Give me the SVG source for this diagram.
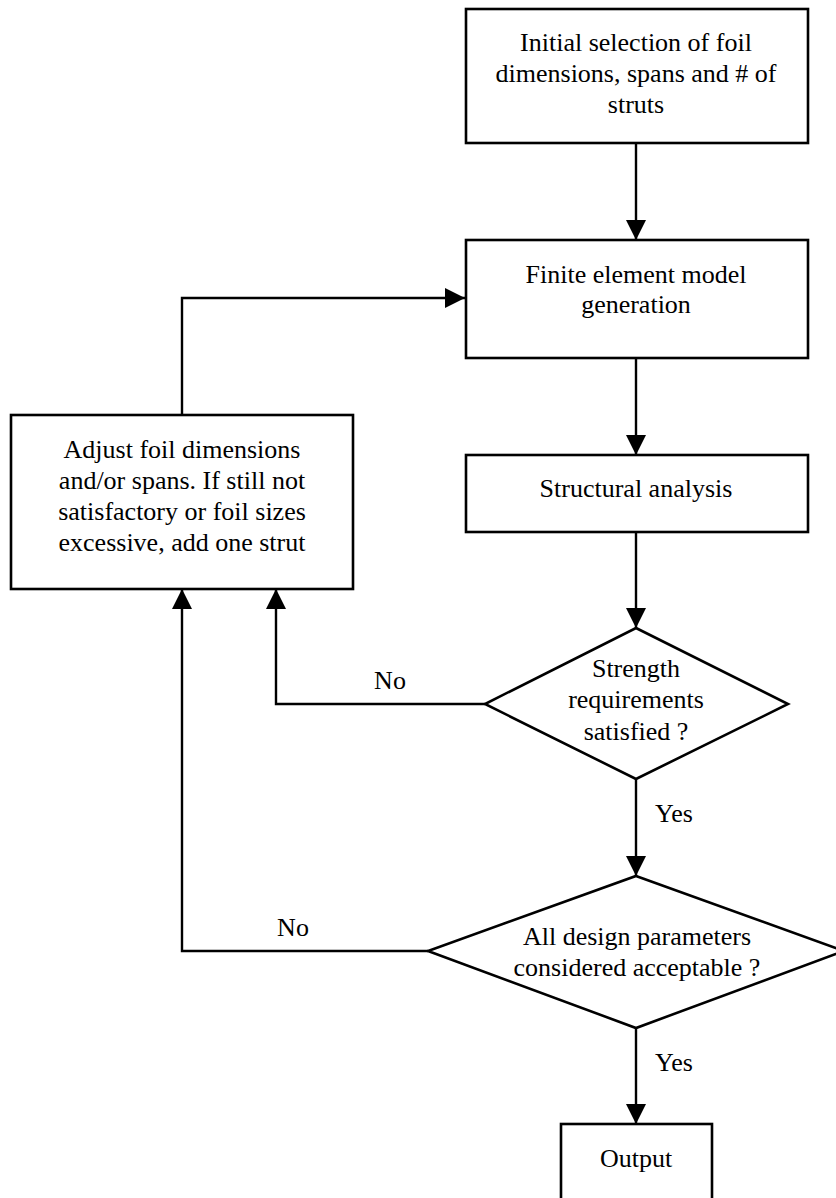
<svg xmlns="http://www.w3.org/2000/svg" width="836" height="1198" viewBox="0 0 836 1198">
<style>
.box{fill:#fff;stroke:#000;stroke-width:2.6}
.con{fill:none;stroke:#000;stroke-width:2.4}
text{font-family:"Liberation Serif","Times New Roman",serif;font-size:26px;fill:#000;text-anchor:middle}
</style>
<defs>
<marker id="arr" markerUnits="userSpaceOnUse" markerWidth="20" markerHeight="20" refX="20" refY="10" orient="auto" viewBox="0 0 20 20">
<path d="M0,0 L20,10 L0,20 z" fill="#000"/>
</marker>
</defs>
<rect width="836" height="1198" fill="#fff"/>
<g id="connectors">
<path class="con" d="M636,143 V240" marker-end="url(#arr)"/>
<path class="con" d="M636,358 V455" marker-end="url(#arr)"/>
<path class="con" d="M636,532 V628" marker-end="url(#arr)"/>
<path class="con" d="M636,779 V876" marker-end="url(#arr)"/>
<path class="con" d="M636,1028 V1124" marker-end="url(#arr)"/>
<path class="con" d="M485,704 H276 V589" marker-end="url(#arr)"/>
<path class="con" d="M428,951 H182 V589" marker-end="url(#arr)"/>
<path class="con" d="M182,415 V298 H465" marker-end="url(#arr)"/>
<text x="390" y="689">No</text>
<text x="293" y="936">No</text>
<text x="674" y="822">Yes</text>
<text x="674" y="1071">Yes</text>
</g>
<g id="initial">
<rect class="box" x="466" y="9" width="342" height="134"/>
<text x="636" y="51">Initial selection of foil</text>
<text x="636" y="82">dimensions, spans and # of</text>
<text x="636" y="113">struts</text>
</g>
<g id="fem">
<rect class="box" x="466" y="240" width="342" height="118"/>
<text x="636" y="283">Finite element model</text>
<text x="636" y="313">generation</text>
</g>
<g id="structural">
<rect class="box" x="466" y="455" width="342" height="77"/>
<text x="636" y="497">Structural analysis</text>
</g>
<g id="adjust">
<rect class="box" x="11" y="415" width="342" height="174"/>
<text x="182" y="458">Adjust foil dimensions</text>
<text x="182" y="489">and/or spans. If still not</text>
<text x="182" y="520">satisfactory or foil sizes</text>
<text x="182" y="551">excessive, add one strut</text>
</g>
<g id="strength">
<polygon class="box" points="636,628 788,704 636,779 485,704"/>
<text x="636" y="677">Strength</text>
<text x="636" y="708">requirements</text>
<text x="636" y="740">satisfied ?</text>
</g>
<g id="params">
<polygon class="box" points="636,876 844,951 636,1028 428,951"/>
<text x="637" y="945">All design parameters</text>
<text x="637" y="976">considered acceptable ?</text>
</g>
<g id="output">
<rect class="box" x="561" y="1124" width="151" height="90"/>
<text x="636" y="1167">Output</text>
</g>
</svg>
